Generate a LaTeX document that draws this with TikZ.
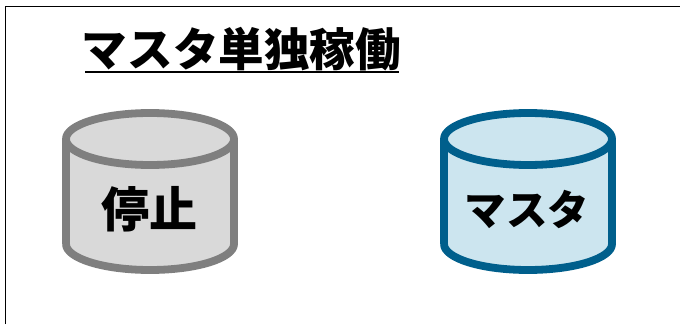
\documentclass[tikz,border=0pt]{standalone}
\usepackage{fontspec}
\setmainfont{Noto Sans CJK JP}[BoldFont={Noto Sans CJK JP Black}]
\definecolor{gstroke}{HTML}{7F7F7F}
\definecolor{gfill}{HTML}{D9D9D9}
\definecolor{bstroke}{HTML}{005F8C}
\definecolor{bfill}{HTML}{CCE5EF}
\tikzset{
  x=1pt,y=-1pt,
  label text/.style={inner sep=0pt,font=\bfseries,text=black},
  pics/drum/.style 2 args={code={
    \path[fill=#2] (-84,0) -- (-84,105) arc[start angle=180,end angle=0,x radius=84,y radius=26] -- (84,0) arc[start angle=0,end angle=-180,x radius=84,y radius=26] -- cycle;
    \draw[#1,line width=7.8pt,line join=round]
      (-84,105) -- (-84,0) arc[start angle=180,end angle=-180,x radius=84,y radius=26]
      (84,0) -- (84,105) arc[start angle=0,end angle=180,x radius=84,y radius=26];
  }}
}
\begin{document}
\begin{tikzpicture}
\useasboundingbox (0,0) rectangle (680,324);
\draw[black,line width=1.9pt] (5.5,324) -- (5.5,6.5) -- (680,6.5);
\node[label text,font=\bfseries\fontsize{45.6}{50}\selectfont,anchor=center] (title) at (241.5,49.5) {マスタ単独稼働};
\coordinate (ulL) at (85,72);
\coordinate (ulR) at (399,72);
\draw[black,line width=2.2pt] (ulL) -- (ulR);
\pic at (150,139) {drum={gstroke}{gfill}};
\pic at (528,139) {drum={bstroke}{bfill}};
\node[label text,font=\bfseries\fontsize{48}{52}\selectfont] (stop) at (149,209) {停止};
\node[label text,font=\bfseries\fontsize{41.5}{46}\selectfont] (master) at (527,209) {マスタ};
\end{tikzpicture}
\end{document}
